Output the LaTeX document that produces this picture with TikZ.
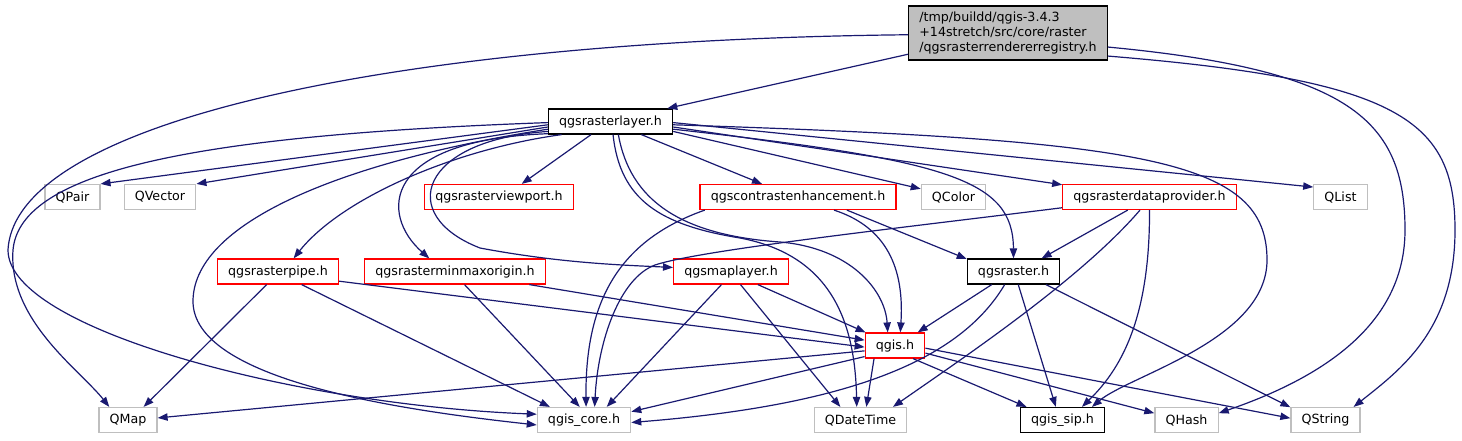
\documentclass[tikz,border=0pt]{standalone}
\usepackage{fontspec}
\setmainfont{DejaVu Sans}
\usetikzlibrary{arrows.meta}
\definecolor{edgeblue}{RGB}{25,25,112}
\definecolor{sysgray}{RGB}{191,191,191}
\definecolor{hdrfill}{RGB}{191,191,191}
\tikzset{
  file/.style    = {draw=black, fill=white, line width=0.9pt, minimum height=18.75pt,
                    inner xsep=8pt, inner ysep=0pt, font=\fontsize{9.5}{11.25}\selectfont},
  redfile/.style = {file, draw=red},
  sysfile/.style = {file, draw=sysgray},
  hdr/.style     = {file, fill=hdrfill, align=left, minimum height=40.5pt, inner ysep=3pt},
  edge/.style    = {-{Triangle[length=7.5pt, width=5.5pt]}, edgeblue, line width=0.9pt},
}

\begin{document}
\begin{tikzpicture}[x=0.75pt, y=-0.75pt]
  \useasboundingbox (0,0) rectangle (1462,440);
  % header and its main include
  \node[hdr] (reg) at (1008,33) {/tmp/buildd/qgis-3.4.3\\+14stretch/src/core/raster\\/qgsrasterrendererregistry.h};
  \node[file] (layer) at (610.5,121.5) {qgsrasterlayer.h};
  % second row
  \foreach \n/\x/\l in {qpair/72.5/QPair, qvector/160/QVector, qcolor/953.5/QColor, qlist/1340.5/QList}
    \node[sysfile] (\n) at (\x,197) {\l};
  \foreach \n/\x/\l in {viewport/499/qgsrasterviewport.h, contrast/798/qgscontrastenhancement.h,
                        dataprov/1149.5/qgsrasterdataprovider.h}
    \node[redfile] (\n) at (\x,197) {\l};
  % third row
  \foreach \n/\x/\l in {pipe/278/qgsrasterpipe.h, minmax/455/qgsrasterminmaxorigin.h, maplayer/731/qgsmaplayer.h}
    \node[redfile] (\n) at (\x,271.5) {\l};
  \node[file] (raster) at (1013.5,271.5) {qgsraster.h};
  \node[redfile] (qgis) at (895,345.5) {qgis.h};
  % bottom row
  \foreach \n/\x/\l in {qmap/128/QMap, core/584/qgis\_core.h, datetime/860.5/QDateTime,
                        qhash/1186.5/QHash, qstring/1325.5/QString}
    \node[sysfile] (\n) at (\x,420) {\l};
  \node[file] (sip) at (1062.5,420) {qgis\_sip.h};

  % straight includes
  \foreach \a/\b in {reg.192/layer.13, layer.183/qpair.north east, layer.185/qvector.north east,
                     layer.214/viewport.30, layer.337/contrast.160, layer.351/qcolor.166,
                     layer.355/dataprov.172, layer.359/qlist.160, contrast.345/raster.165,
                     dataprov.211/raster.25, maplayer.234/core.30, maplayer.306/datetime.147,
                     maplayer.334/qgis.156, pipe.229/qmap.40, pipe.331/core.159, pipe.351/qgis.183,
                     minmax.306/core.108, minmax.350/qgis.170, raster.211/qgis.30, raster.290/sip.117,
                     raster.338/qstring.160, qgis.190/qmap.4, qgis.200/core.10, qgis.212/datetime.66,
                     qgis.324/sip.160, qgis.346/qhash.168, qgis.355/qstring.177}
    \draw[edge] (\a) -- (\b);

  % long ones from the header
  \draw[edge] (reg.181) .. controls (400,40) and (15,120) .. (8,250)
                        .. controls (8,330) and (300,405) .. (core.173);
  \draw[edge] (reg.352) .. controls (1350,70) and (1405,120) .. (1405,230)
                        .. controls (1405,320) and (1330,375) .. (qhash.12);
  \draw[edge] (reg.347) .. controls (1400,80) and (1455,120) .. (1455,230)
                        .. controls (1455,330) and (1400,370) .. (qstring.25);
  % curved ones from qgsrasterlayer.h
  \draw[edge] (layer.353) .. controls (950,160) and (1013,180) .. (raster.north);
  \draw[edge] (layer.357) .. controls (1150,140) and (1267,160) .. (1267,260)
                          .. controls (1267,340) and (1130,375) .. (sip.24);
  \draw[edge] (layer.195) .. controls (450,150) and (340,200) .. (pipe.40);
  \draw[edge] (layer.191) .. controls (380,140) and (380,215) .. (minmax.153);
  \draw[edge] (layer.189) .. controls (420,140) and (395,215) .. (480,248)
                          .. controls (560,263) and (620,265) .. (maplayer.176);
  \draw[edge] (layer.187) .. controls (350,160) and (195,220) .. (193,300)
                          .. controls (191,380) and (400,410) .. (core.186);
  \draw[edge] (layer.181) .. controls (200,135) and (20,170) .. (13,250)
                          .. controls (8,320) and (80,370) .. (qmap.145);
  \draw[edge] (layer.301) .. controls (630,200) and (680,235) .. (780,242)
                          .. controls (850,248) and (885,290) .. (qgis.119);
  \draw[edge] (layer.281) .. controls (620,200) and (660,225) .. (740,238)
                          .. controls (830,255) and (855,320) .. (datetime.106);
  % the rest
  \draw[edge] (contrast.188) .. controls (620,240) and (585,300) .. (core.81);
  \draw[edge] (contrast.340) .. controls (880,225) and (905,260) .. (qgis.68);
  \draw[edge] (dataprov.234) .. controls (1080,280) and (960,360) .. (datetime.22);
  \draw[edge] (dataprov.south) .. controls (1150,320) and (1120,370) .. (sip.34);
  \draw[edge] (dataprov.187) .. controls (900,228) and (700,250) .. (655,265)
                             .. controls (620,278) and (598,340) .. (core.51);
  \draw[edge] (raster.236) .. controls (960,360) and (850,405) .. (core.357);
\end{tikzpicture}
\end{document}
